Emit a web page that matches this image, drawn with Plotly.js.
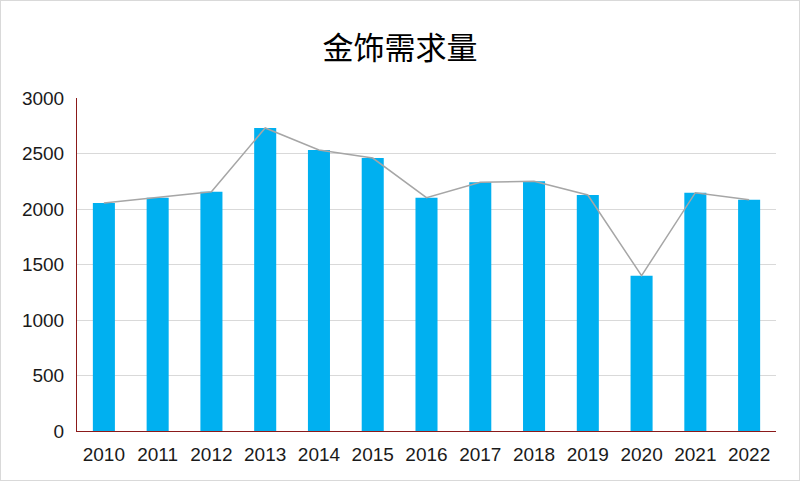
<!DOCTYPE html>
<html>
<head>
<meta charset="utf-8">
<script src="https://cdn.plot.ly/plotly-3.0.1.min.js"></script>
<style>
html,body{margin:0;padding:0;background:#fff;}
#wrap{position:relative;width:800px;height:481px;}
#chart{width:800px;height:481px;}
#frame{position:absolute;left:0;top:0;width:800px;height:481px;box-sizing:border-box;border:1px solid #d9d9d9;pointer-events:none;}
</style>
</head>
<body>
<div id="wrap"><div id="chart"></div><div id="frame"></div></div>
<script>
const years = ['2010','2011','2012','2013','2014','2015','2016','2017','2018','2019','2020','2021','2022'];
const demand = [2054, 2102, 2156, 2730, 2532, 2459, 2102, 2240, 2249, 2126, 1399, 2147, 2084];
const yTicks = [0, 500, 1000, 1500, 2000, 2500, 3000];

const traces = [
  {
    type: 'bar', x: years, y: demand,
    marker: {color: '#00B0F0'},
    hoverinfo: 'x+y', showlegend: false
  },
  {
    type: 'scatter', mode: 'lines', x: years, y: demand,
    line: {color: '#A6A6A6', width: 1.5},
    hoverinfo: 'skip', showlegend: false
  }
];

const layout = {
  width: 800, height: 481,
  margin: {l: 77, r: 24, t: 98, b: 50},
  paper_bgcolor: '#ffffff', plot_bgcolor: '#ffffff',
  title: {
    text: '金饰需求量',
    font: {family: '"Noto Sans CJK SC", "Noto Sans", sans-serif', size: 31, color: '#000'},
    x: 0.5, xanchor: 'center', y: 0.9, yanchor: 'middle'
  },
  bargap: 0.59,
  xaxis: {
    type: 'category',
    showgrid: false, zeroline: false,
    showline: true, linecolor: '#8B1A1A', linewidth: 1,
    ticks: '',
    tickfont: {family: '"Liberation Sans", Arial, sans-serif', size: 19, color: '#1a1a1a'},
    ticklabelstandoff: 6
  },
  yaxis: {
    range: [0, 3000], tickvals: yTicks, ticktext: yTicks.map(String),
    showgrid: true, gridcolor: '#d9d9d9', gridwidth: 1,
    zeroline: false,
    showline: true, linecolor: '#8B1A1A', linewidth: 1,
    ticks: '',
    tickfont: {family: '"Liberation Sans", Arial, sans-serif', size: 19, color: '#1a1a1a'},
    ticklabelstandoff: 8
  }
};

Plotly.newPlot('chart', traces, layout, {displayModeBar: false, staticPlot: true});
</script>
</body>
</html>
